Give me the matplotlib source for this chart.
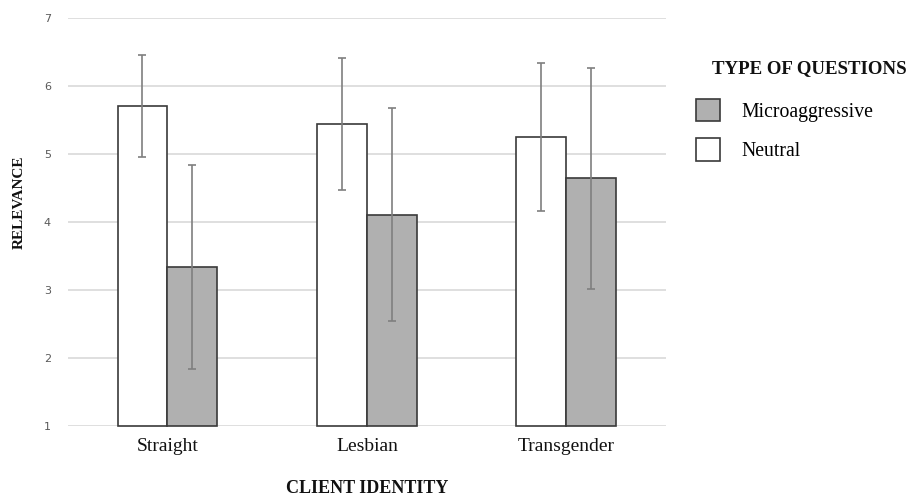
import matplotlib

matplotlib.use("Agg")

import matplotlib.pyplot as plt  # noqa: E402
import numpy as np  # noqa: E402
from matplotlib.patches import Patch  # noqa: E402

# Values
categories = ["Straight", "Lesbian", "Transgender"]
neutral_mean = [5.71, 5.44, 5.25]
neutral_sd = [0.75, 0.97, 1.09]
micro_mean = [3.34, 4.11, 4.64]
micro_sd = [1.50, 1.56, 1.62]
y_ticks = [1, 2, 3, 4, 5, 6, 7]

SERIF = ["Liberation Serif", "DejaVu Serif"]
EDGE = "#3a3a3a"
GRAY_FILL = "#b0b0b0"
ERR_COLOR = "#7f7f7f"
GRID_COLOR = "#d9d9d9"
TICK_COLOR = "#595959"

fig = plt.figure(figsize=(9.07, 4.95), dpi=100)
ax = fig.add_axes([0.0746, 0.1394, 0.6597, 0.8242])

x = np.arange(len(categories))
width = 0.25
base = y_ticks[0]  # bars start at the axis floor, like the source chart
err_kw = dict(ecolor=ERR_COLOR, elinewidth=1.2, capsize=3, capthick=1.2)

ax.bar(x - width / 2, np.array(neutral_mean) - base, width, bottom=base,
       yerr=neutral_sd, color="white", edgecolor=EDGE, linewidth=1.2,
       error_kw=err_kw, zorder=2, clip_on=False)
ax.bar(x + width / 2, np.array(micro_mean) - base, width, bottom=base,
       yerr=micro_sd, color=GRAY_FILL, edgecolor=EDGE, linewidth=1.2,
       error_kw=err_kw, zorder=2, clip_on=False)

ax.set_xlim(-0.5, len(categories) - 0.5)
ax.set_ylim(1, 7)
ax.set_yticks(y_ticks)
ax.set_xticks(x)
ax.set_xticklabels(categories, family=SERIF, fontsize=14, color="#111111")
for lbl in ax.get_yticklabels():
    lbl.set_fontsize(8)
    lbl.set_color(TICK_COLOR)
ax.tick_params(axis="y", length=0, pad=12)
ax.tick_params(axis="x", length=0, pad=9)

ax.grid(axis="y", color=GRID_COLOR, linewidth=1.2, zorder=0)
ax.set_axisbelow(True)
for spine in ax.spines.values():
    spine.set_visible(False)

fig.text(0.021, 0.592, "RELEVANCE", rotation=90, ha="center", va="center",
         family=SERIF, fontsize=11, fontweight="bold", color="#111111")
fig.text(0.405, 0.014, "CLIENT IDENTITY", ha="center", va="center",
         family=SERIF, fontsize=13, fontweight="bold", color="#111111")

fig.text(0.785, 0.862, "TYPE OF QUESTIONS", ha="left", va="center",
         family=SERIF, fontsize=13.6, fontweight="bold", color="#111111")

handles = [
    Patch(facecolor=GRAY_FILL, edgecolor=EDGE, linewidth=1.2, label="Microaggressive"),
    Patch(facecolor="white", edgecolor=EDGE, linewidth=1.2, label="Neutral"),
]
fig.legend(handles=handles, loc="upper left", bbox_to_anchor=(0.767, 0.80),
           frameon=False, prop={"family": SERIF, "size": 14.2},
           handlelength=1.25, handleheight=1.35, handletextpad=1.05,
           labelspacing=0.85, borderpad=0, borderaxespad=0)

fig.savefig("out.png", facecolor="white")
